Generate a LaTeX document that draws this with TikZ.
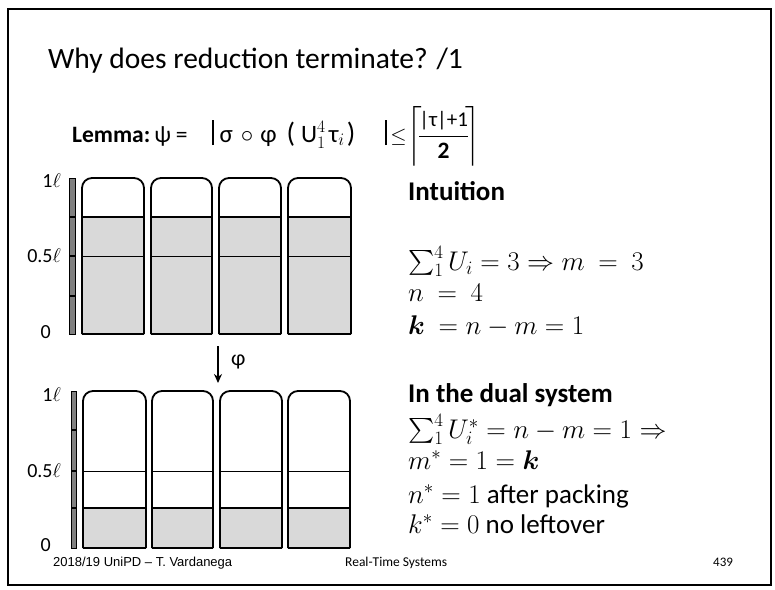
\RequirePackage{fix-cm}
\documentclass[tikz,border=0pt]{standalone}
\usepackage{amsmath,bm}
\usepackage{fontspec}
\setmainfont{Carlito}
\newfontfamily\arialfont{Liberation Sans}
\usetikzlibrary{arrows.meta}
\newcommand{\absbar}{\rule[-3pt]{2pt}{25pt}}
\tikzset{
  binline/.style={line width=1.8pt, line join=round},
  halfline/.style={line width=0.8pt},
  fillline/.style={line width=1.6pt},
  scalebar/.style={fill=black!50, draw=black, line width=1pt},
  tick/.style={line width=1.4pt},
  txt/.style={anchor=base west, inner sep=0pt, font=\fontsize{27}{32}\selectfont},
  lbl/.style={anchor=east, inner sep=0pt, font=\fontsize{20}{24}\selectfont},
  foot/.style={anchor=base west, inner sep=0pt},
}
\begin{document}
\begin{tikzpicture}[x=1pt,y=-1pt]
\useasboundingbox (0,0) rectangle (775,589);
\draw[line width=2.5pt] (8,9) rectangle (771,585);

\node[anchor=base west, inner sep=0pt, font=\fontsize{29.5}{36}\selectfont] (title) at (48,68) {Why does reduction terminate? /1};

\node[anchor=base west, inner sep=0pt, font=\fontsize{23.5}{28}\selectfont] (lemma) at (72,142)
 {\textbf{Lemma:}\hspace{4pt}ψ\hspace{5pt}=\hspace{24pt}\absbar\hspace{6pt}{\fontsize{25}{30}\selectfont σ\hspace{8pt}$\circ$\hspace{7pt}φ\hspace{10pt}{\fontsize{28}{30}\selectfont(}\hspace{6pt}U$_1^4$\hspace{3pt}τ$_i$\hspace{2pt}{\fontsize{28}{30}\selectfont)}}\hspace{30pt}\absbar\hspace{3pt}{\fontsize{21}{24}\selectfont$\le$}\hspace{1pt}$\left\lceil\!\dfrac{\text{\fontsize{21}{24}\selectfont|τ|+1}}{\textbf{2}}\!\right\rceil$};

% top group
\foreach \xa/\xb [count=\i] in {82/144,151/212,219/281,288/351}{
  \fill[black!15] (\xa,217) rectangle (\xb,334);
  \draw[halfline] (\xa,256) -- (\xb,256);
  \draw[fillline] (\xa,217) -- (\xb,217);
  \draw[binline, rounded corners=10pt] (\xa,334) -- (\xa,178) -- (\xb,178) -- (\xb,334);
  \draw[binline] (\xa,334) -- (\xb,334);
}
\draw[scalebar] (69,178) rectangle (75,334);
\foreach \yy in {217,256,296}{ \draw[tick] (69,\yy) -- (75,\yy); }
\node[lbl] (ta) at (61,181) {1$\ell$};
\node[lbl] (tb) at (61,256) {0.5$\ell$};
\node[lbl] (tc) at (51,332) {0};

% arrow
\coordinate (phitop) at (218,346);
\coordinate (phibot) at (218,383);
\draw[line width=1.6pt, -{Stealth[length=9pt,width=8pt]}] (phitop) -- (phibot);
\node[anchor=west, inner sep=0pt, font=\fontsize{22}{26}\selectfont] (phi) at (231,362) {φ};

% bottom group
\foreach \xa/\xb [count=\i] in {83/146,152/213,220/282,288/350}{
  \fill[black!15] (\xa,508) rectangle (\xb,548);
  \draw[halfline] (\xa,471) -- (\xb,471);
  \draw[fillline] (\xa,508) -- (\xb,508);
  \draw[binline, rounded corners=10pt] (\xa,548) -- (\xa,391) -- (\xb,391) -- (\xb,548);
  \draw[binline] (\xa,548) -- (\xb,548);
}
\draw[scalebar] (71,391) rectangle (76,548);
\foreach \yy in {430,471,508}{ \draw[tick] (71,\yy) -- (76,\yy); }
\node[lbl] (ba) at (61,395) {1$\ell$};
\node[lbl] (bb) at (61,471) {0.5$\ell$};
\node[lbl] (bc) at (51,545) {0};

% right column
\node[txt] (intu) at (408,200) {\textbf{Intuition}};
\node[txt] (l1) at (408,270) {$\sum_1^4 U_i = 3 \Rightarrow m\ =\ 3$};
\node[txt] (l2) at (408,301) {$n\ =\ 4$};
\node[txt] (l3) at (408,334) {$\bm{k}\ = n - m = 1$};
\node[txt] (dual) at (408,402) {\textbf{In the dual system}};
\node[txt] (d1) at (408,438) {$\sum_1^4 U_i^* = n - m = 1 \Rightarrow$};
\node[txt] (d2) at (408,469) {$m^* = 1 = \bm{k}$};
\node[txt] (d3) at (408,503) {$n^* = 1$ after packing};
\node[txt] (d4) at (408,533) {$k^* = 0$ no leftover};

% footer
\node[foot, font=\arialfont\fontsize{13}{15}\selectfont] (f1) at (53,566) {2018/19 UniPD – T. Vardanega};
\node[foot, font=\fontsize{13.5}{15}\selectfont] (f2) at (345,566) {Real-Time Systems};
\node[foot, font=\fontsize{13}{15}\selectfont] (f3) at (713,566) {439};
\end{tikzpicture}
\end{document}
